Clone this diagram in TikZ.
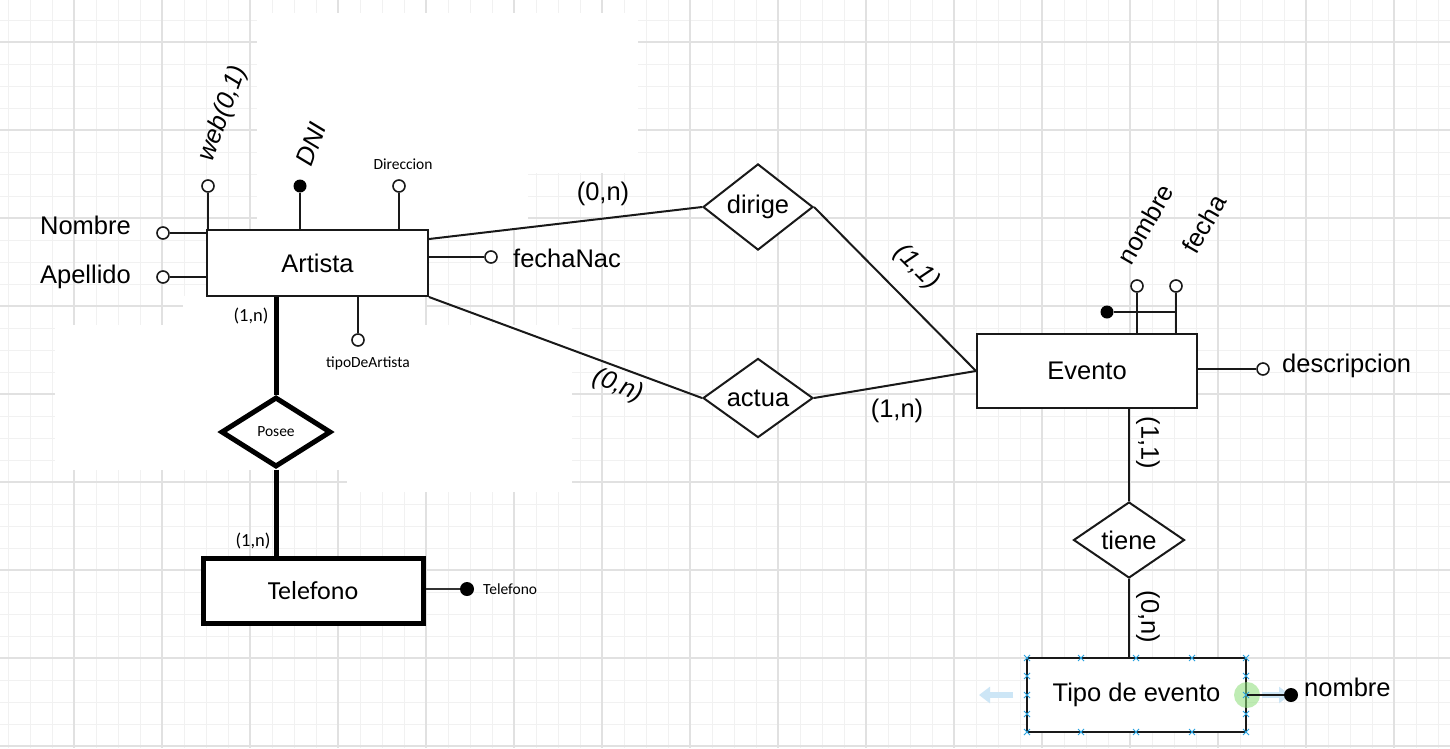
\documentclass[tikz,border=0pt]{standalone}
\usepackage{fontspec}
\setmainfont{Liberation Sans}
\newfontfamily\carlito{Carlito}
\usetikzlibrary{shapes.geometric,arrows.meta}
\definecolor{gridlight}{RGB}{241,241,241}
\definecolor{griddark}{RGB}{225,225,225}
\definecolor{handleblue}{RGB}{41,163,224}
\definecolor{hintblue}{RGB}{205,230,246}
\definecolor{hovergreen}{RGB}{140,222,120}

\begin{document}
\begin{tikzpicture}[x=1pt,y=-1pt,
  ink/.style={draw=black!90, line width=2pt},
  heavy/.style={draw=black, line width=5pt},
  entity/.style={ink, rectangle, fill=white, inner sep=0pt, font=\fontsize{25.5}{30}\selectfont},
  rel/.style={ink, diamond, fill=white, inner sep=0pt, font=\fontsize{25.5}{30}\selectfont},
  attr/.style={draw=black!90, line width=1.6pt, circle, fill=white, minimum size=12pt, inner sep=0pt},
  keyattr/.style={circle, fill=black, minimum size=14pt, inner sep=0pt},
  lbl/.style={inner sep=0pt, font=\fontsize{25.5}{30}\selectfont},
  lblit/.style={inner sep=0pt, font=\itshape\fontsize{25.5}{30}\selectfont},
  small/.style={inner sep=0pt, font=\carlito\fontsize{15.5}{18}\selectfont},
  card/.style={inner sep=0pt, font=\carlito\fontsize{18.5}{22}\selectfont},
  gridminor/.style={draw=gridlight, line width=1pt},
  gridmajor/.style={draw=griddark, line width=1.3pt},
  handle/.style={draw=handleblue, line width=1pt},
  hint/.style={draw=hintblue, line width=6pt, -{Triangle[width=16pt,length=11pt]}},
]
% canvas
\fill[white] (0,0) rectangle (1450,748);
\useasboundingbox (0,0) rectangle (1450,748);

% background grid
\foreach \gx in {8,30,...,1450} \draw[gridminor] (\gx,0) -- (\gx,748);
\foreach \gy in {20,42,...,748} \draw[gridminor] (0,\gy) -- (1450,\gy);
\foreach \gx in {74,162,...,1450} \draw[gridmajor] (\gx,0) -- (\gx,748);
\foreach \gy in {42,130,...,748} \draw[gridmajor] (0,\gy) -- (1450,\gy);

% blank patches over the grid
\fill[white] (257,13) rectangle (638,173);
\fill[white] (257,173) rectangle (528,230);
\fill[white] (183,296) rectangle (425,325);
\fill[white] (55,325) rectangle (572,470);
\fill[white] (347,470) rectangle (572,492);

% ---------- entities and relationships ----------
\node[entity, minimum width=221pt, minimum height=66pt] (art) at (317.5,263) {Artista};
\node[entity, minimum width=220pt, minimum height=74pt] (eve) at (1087,371) {Evento};
\node[entity, minimum width=219pt, minimum height=74pt] (tipo) at (1136.5,695) {Tipo de evento};
\node[heavy, rectangle, fill=white, inner sep=0pt, minimum width=220pt, minimum height=65pt,
      font=\carlito\fontsize{26}{30}\selectfont] (tel) at (313,590.5) {Telefono};

\node[rel, minimum width=110pt, minimum height=78pt] (dir) at (758,207) {dirige};
\node[rel, minimum width=110pt, minimum height=76pt] (act) at (758,398) {actua};
\node[rel, minimum width=111pt, minimum height=76pt] (tie) at (1129,540) {tiene};
\node[heavy, diamond, fill=white, inner sep=0pt, minimum width=110pt, minimum height=70pt,
      font=\carlito\fontsize{15.5}{18}\selectfont] (pos) at (276,432) {Posee};

% ---------- Artista attributes ----------
\node[attr] (anom) at (163,233) {};
\node[attr] (aape) at (163,277) {};
\node[attr] (aweb) at (208,186) {};
\node[keyattr, minimum size=13pt] (adni) at (300,186) {};
\node[attr] (adir) at (399,186) {};
\node[attr] (afec) at (491,257) {};
\node[attr] (atip) at (358,340) {};

\draw[ink] (anom) -- (anom -| art.west);
\draw[ink] (aape) -- (aape -| art.west);
\draw[ink] (aweb) -- (aweb |- art.north);
\draw[ink] (adni) -- (adni |- art.north);
\draw[ink] (adir) -- (adir |- art.north);
\draw[ink] (afec) -- (afec -| art.east);
\draw[ink] (atip) -- (atip |- art.south);

\node[lbl, anchor=east] (tnom) at (131,225) {Nombre};
\node[lbl, anchor=east] (tape) at (131,277) {Apellido};
\node[lblit, rotate=70] (tweb) at (223,114) {web(0,1)};
\node[lblit, rotate=70] (tdni) at (311,144) {DNI};
\node[small] (tdir) at (403,164) {Direccion};
\node[lbl, anchor=west] (tfec) at (513,258) {fechaNac};
\node[small] (ttip) at (368,363) {tipoDeArtista};

% ---------- Evento attributes ----------
\node[attr] (enom) at (1137,286) {};
\node[attr] (efec) at (1176,286) {};
\node[keyattr, minimum size=13pt] (ekey) at (1107,312) {};
\node[attr] (edes) at (1263,369) {};
\draw[ink] (enom) -- (enom |- eve.north);
\draw[ink] (efec) -- (efec |- eve.north);
\draw[ink] (ekey) -- (efec |- ekey);
\draw[ink] (edes) -- (edes -| eve.east);
\node[lbl, rotate=60] (tenom) at (1145,224) {nombre};
\node[lbl, rotate=60] (tefec) at (1204,224) {fecha};
\node[lbl, anchor=west] (tedes) at (1282,366) {descripcion};

% ---------- Telefono attribute ----------
\node[keyattr] (ttel) at (467,589) {};
\draw[draw=black!80, line width=2.5pt] (ttel) -- (ttel -| tel.east);
\node[small, anchor=west] (tttel) at (483,589) {Telefono};

% ---------- Tipo de evento: selection marks and attribute ----------
\draw[hint] (1013,695) -- (979,695);
\draw[hint] (1262,695) -- (1290,695);
\fill[hovergreen, opacity=0.55] (tipo.east) circle (13pt);
\foreach \hx/\hy in {1027/658,1081/658,1136/658,1192/658,1246/658,
                     1027/732,1081/732,1136/732,1192/732,1246/732,
                     1027/676,1027/695,1027/714,1246/676,1246/695,1246/714}
  \draw[handle] (\hx-3,\hy-3) -- (\hx+3,\hy+3) (\hx-3,\hy+3) -- (\hx+3,\hy-3);
\node[keyattr] (tnomb) at (1291,695) {};
\draw[ink] (tnomb) -- (tipo.east);
\node[lbl, anchor=west] (ttnom) at (1304,687) {nombre};

% ---------- relationship lines ----------
\draw[ink] ([yshift=-10pt]art.north east) -- (dir.west);
\draw[ink] (art.south east) -- (act.west);
\draw[ink] (dir.east) -- (eve.west);
\draw[ink] (act.east) -- (eve.west);
\draw[ink] (tie.north) -- (tie.north |- eve.south);
\draw[ink] (tie.south) -- (tie.south |- tipo.north);
\draw[heavy] (pos.north) -- (pos.north |- art.south);
\draw[heavy] (pos.south) -- (pos.south |- tel.north);

% ---------- cardinalities ----------
\node[lbl] (c1) at (603,194) {(0,n)};
\node[lblit, rotate=-45] (c2) at (917,267) {(1,1)};
\node[lblit, rotate=-22] (c3) at (618,386) {(0,n)};
\node[lbl] (c4) at (897,411) {(1,n)};
\node[lbl, rotate=-90] (c5) at (1148,443) {(1,1)};
\node[lbl, rotate=-90] (c6) at (1148,617) {(0,n)};
\node[card] (c7) at (251,316) {(1,n)};
\node[card] (c8) at (253,541) {(1,n)};
\end{tikzpicture}
\end{document}
